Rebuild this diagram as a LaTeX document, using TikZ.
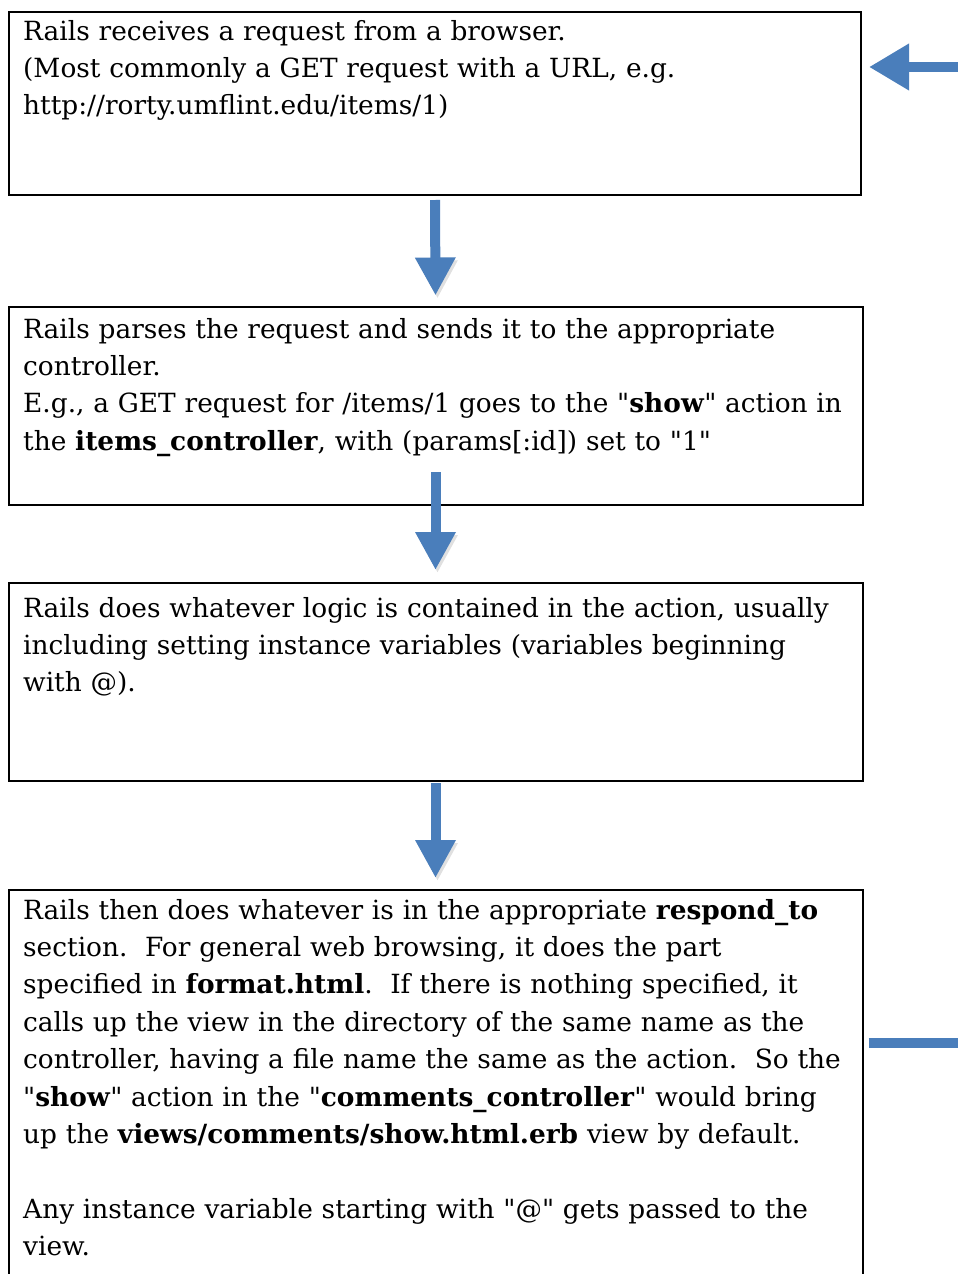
\documentclass[tikz,border=0pt]{standalone}
\usepackage{fontspec}
\setmainfont{DejaVu Serif}[Ligatures = TeXOff]
\usetikzlibrary{arrows.meta}
\definecolor{flowblue}{HTML}{4A7EBB}

\begin{document}
\begin{tikzpicture}[x = 1pt, y = -1pt,
                    stepbox/.style = {draw, line width = 2pt, anchor = north west, inner sep = 0pt},
                    steptext/.style = {anchor = base west, align = left, text width = 860pt, inner sep = 0pt,
                                       font = \fontsize{26.4}{37.4}\selectfont},
                    flow/.style = {line width = 10pt, draw = flowblue, -{Triangle[width = 38pt, length = 38pt]},
                                   preaction = {draw = black, opacity = 0.12, transform canvas = {shift = {(2pt, -3pt)}}}}]
      \path [use as bounding box, fill = white] (0, 0) rectangle (958, 1274);
      \node [stepbox, minimum width = 852pt, minimum height = 183pt] (recv) at (8, 11){};
      \node [stepbox, minimum width = 854pt, minimum height = 198.5pt] (parse) at (7.5, 305.5){};
      \node [stepbox, minimum width = 854pt, minimum height = 198pt] (logic) at (7.5, 582){};
      \node [stepbox, minimum width = 854pt, minimum height = 420pt] (respond) at (7.5, 889){};
      \node [steptext] (recvtext) at (23, 40){Rails receives a request from a browser.\\
        (Most commonly a GET request with a URL, e.g.\\
        http://rorty.umflint.edu/items/1)};
      \node [steptext] (parsetext) at (23, 338){Rails parses the request and sends it to the appropriate\\
        controller.\\
        E.g., a GET request for /items/1 goes to the "\textbf{show}" action in\\
        the \textbf{items\_controller}, with (params[:id]) set to "1"};
      \node [steptext] (logictext) at (23, 617){Rails does whatever logic is contained in the action, usually\\
        including setting instance variables (variables beginning\\
        with @).};
      \node [steptext] (respondtext) at (23, 919){Rails then does whatever is in the appropriate \textbf{respond\_to}\\
        section.\ \ For general web browsing, it does the part\\
        specified in \textbf{format.html}.\ \ If there is nothing specified, it\\
        calls up the view in the directory of the same name as the\\
        controller, having a file name the same as the action.\ \ So the\\
        "\textbf{show}" action in the "\textbf{comments\_controller}" would bring\\
        up the \textbf{views/comments/show.html.erb} view by default.\\[37.4pt]
        Any instance variable starting with "@" gets passed to the\\
        view.};
      \coordinate (lowturn) at (963, 1043);
      \coordinate (highturn) at (963, 67);
      \draw [flow] ([yshift = -4pt]recv.south) -- ([yshift = 10pt]parse.north);
      \draw [flow] ([yshift = 34pt]parse.south) -- ([yshift = 12pt]logic.north);
      \draw [flow] ([yshift = -1pt]logic.south) -- ([yshift = 11pt]respond.north);
      \draw [flow, -{Triangle[width = 44pt, length = 40pt]}] ([xshift = 5pt]respond.east |- lowturn) -- (lowturn)
            -- (highturn) -- ([xshift = 7pt]recv.east |- highturn);
    \end{tikzpicture}
\end{document}
